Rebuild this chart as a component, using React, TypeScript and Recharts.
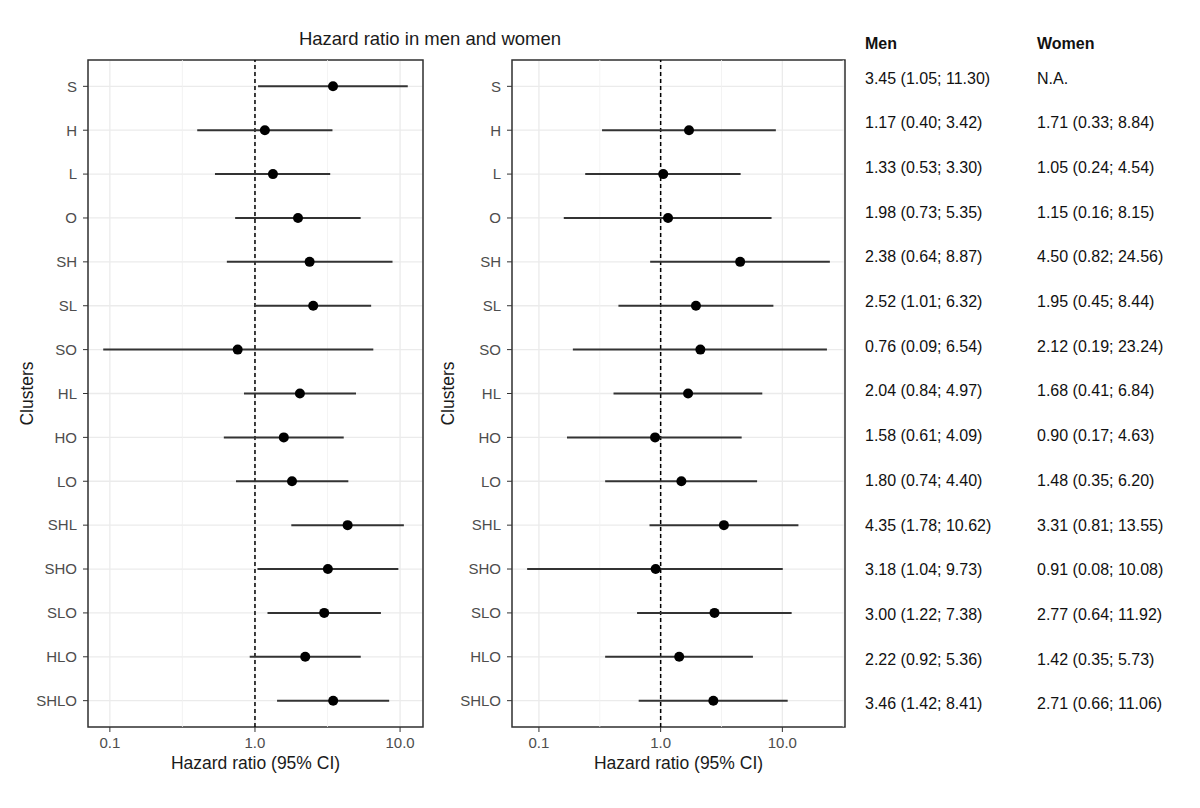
import React from 'react';
import {
  ScatterChart,
  Scatter,
  XAxis,
  YAxis,
  CartesianGrid,
  ReferenceLine,
  ReferenceArea,
  ErrorBar,
} from 'recharts';

const CLUSTERS = ['S', 'H', 'L', 'O', 'SH', 'SL', 'SO', 'HL', 'HO', 'LO', 'SHL', 'SHO', 'SLO', 'HLO', 'SHLO'];

const MEN_HR = [3.45, 1.17, 1.33, 1.98, 2.38, 2.52, 0.76, 2.04, 1.58, 1.8, 4.35, 3.18, 3.0, 2.22, 3.46];
const MEN_LO = [1.05, 0.4, 0.53, 0.73, 0.64, 1.01, 0.09, 0.84, 0.61, 0.74, 1.78, 1.04, 1.22, 0.92, 1.42];
const MEN_HI = [11.3, 3.42, 3.3, 5.35, 8.87, 6.32, 6.54, 4.97, 4.09, 4.4, 10.62, 9.73, 7.38, 5.36, 8.41];

// S is not available for women
const WOMEN_HR = [null, 1.71, 1.05, 1.15, 4.5, 1.95, 2.12, 1.68, 0.9, 1.48, 3.31, 0.91, 2.77, 1.42, 2.71];
const WOMEN_LO = [null, 0.33, 0.24, 0.16, 0.82, 0.45, 0.19, 0.41, 0.17, 0.35, 0.81, 0.08, 0.64, 0.35, 0.66];
const WOMEN_HI = [null, 8.84, 4.54, 8.15, 24.56, 8.44, 23.24, 6.84, 4.63, 6.2, 13.55, 10.08, 11.92, 5.73, 11.06];

const X_TICKS = [0.1, 1, 10];
const MINOR_TICKS = [Math.pow(10, -1.5), Math.pow(10, -0.5), Math.pow(10, 0.5), Math.pow(10, 1.5)];

const FONT = 'Liberation Sans, Arial, sans-serif';
const TICK_FONT = { fontFamily: FONT, fontSize: 15, fill: '#4D4D4D' };

type Row = { x: number; y: number; err: [number, number] };

function buildRows(hr: (number | null)[], lo: (number | null)[], hi: (number | null)[]): Row[] {
  const rows: Row[] = [];
  hr.forEach((v, i) => {
    if (v == null) return;
    rows.push({ x: v, y: i, err: [v - (lo[i] as number), (hi[i] as number) - v] });
  });
  return rows;
}

// ggplot-like log domain: 5% expansion on log scale
function logDomain(lo: (number | null)[], hi: (number | null)[]): [number, number] {
  const a = Math.log10(Math.min(...(lo.filter((v) => v != null) as number[])));
  const b = Math.log10(Math.max(...(hi.filter((v) => v != null) as number[])));
  const pad = (b - a) * 0.05;
  return [Math.pow(10, a - pad), Math.pow(10, b + pad)];
}

const fmt = (hr: number | null, lo: number | null, hi: number | null) =>
  hr == null ? 'N.A.' : `${hr.toFixed(2)} (${(lo as number).toFixed(2)}; ${(hi as number).toFixed(2)})`;

const CHART_W = 430;

function Panel({ rows, domain, left, marginLeft, yWidth, plotWidth }: any) {
  const yTicks = CLUSTERS.map((_, i) => i);
  const marginRight = CHART_W - marginLeft - yWidth - plotWidth;
  return (
    <div style={{ position: 'absolute', left, top: 0 }}>
      <ScatterChart
        width={CHART_W}
        height={808}
        margin={{ top: 60, right: marginRight, bottom: 31, left: marginLeft }}
      >
        <CartesianGrid stroke="#EBEBEB" strokeWidth={1.3} />
        {MINOR_TICKS.map((m) => (
          <ReferenceLine key={m} x={m} stroke="#F0F0F0" strokeWidth={0.8} />
        ))}
        <XAxis
          type="number"
          dataKey="x"
          scale="log"
          domain={domain}
          allowDataOverflow
          ticks={X_TICKS}
          interval={0}
          tickFormatter={(v: number) => v.toFixed(1)}
          axisLine={false}
          tickLine={{ stroke: '#333333' }}
          tickSize={5}
          tickMargin={5}
          tick={TICK_FONT}
          height={50}
          label={{
            value: 'Hazard ratio (95% CI)',
            position: 'insideBottom',
            offset: 8,
            fill: '#1A1A1A',
            fontSize: 17.5,
            fontFamily: FONT,
          }}
        />
        <YAxis
          type="number"
          dataKey="y"
          domain={[-0.6, 14.6]}
          reversed
          ticks={yTicks}
          interval={0}
          tickFormatter={(i: number) => CLUSTERS[i]}
          axisLine={false}
          tickLine={{ stroke: '#333333' }}
          tickSize={5}
          tickMargin={6}
          tick={TICK_FONT}
          width={yWidth}
          label={(p: any) => {
            const vb = p.viewBox;
            const cx = vb.x - 1;
            const cy = vb.y + vb.height / 2;
            return (
              <text
                x={cx}
                y={cy}
                transform={`rotate(-90 ${cx} ${cy})`}
                textAnchor="middle"
                dominantBaseline="central"
                fill="#1A1A1A"
                fontSize={17.5}
                fontFamily={FONT}
              >
                Clusters
              </text>
            );
          }}
        />
        <ReferenceLine x={1} stroke="#000" strokeWidth={1.5} strokeDasharray="4 3" />
        <Scatter
          data={rows}
          isAnimationActive={false}
          fill="#000"
          shape={(p: any) => <circle cx={p.cx} cy={p.cy} r={5} fill="#000" />}
        >
          <ErrorBar dataKey="err" direction="x" width={0} stroke="#333333" strokeWidth={2} />
        </Scatter>
        <ReferenceArea
          x1={domain[0]}
          x2={domain[1]}
          y1={-0.6}
          y2={14.6}
          fill="none"
          fillOpacity={0}
          stroke="#333333"
          strokeWidth={1.5}
          ifOverflow="visible"
        />
      </ScatterChart>
    </div>
  );
}

export default function App() {
  const menRows = buildRows(MEN_HR, MEN_LO, MEN_HI);
  const womenRows = buildRows(WOMEN_HR, WOMEN_LO, WOMEN_HI);
  const menDomain = logDomain(MEN_LO, MEN_HI);
  const womenDomain = logDomain(WOMEN_LO, WOMEN_HI);

  return (
    <div style={{ position: 'absolute', left: 0, top: 0, width: 1200, height: 808, background: '#fff' }}>
      <Panel rows={menRows} domain={menDomain} left={0} marginLeft={28} yWidth={60} plotWidth={335} />
      <Panel rows={womenRows} domain={womenDomain} left={420} marginLeft={29} yWidth={63} plotWidth={333} />
      <svg
        width={1200}
        height={808}
        style={{ position: 'absolute', left: 0, top: 0, pointerEvents: 'none' }}
      >
        <text
          x={430}
          y={38}
          textAnchor="middle"
          dominantBaseline="central"
          fontSize={18.5}
          fontFamily={FONT}
          fill="#1A1A1A"
        >
          Hazard ratio in men and women
        </text>
        <g fontFamily={FONT} fontSize={16} fill="#111">
          <text x={865} y={43} dominantBaseline="central" fontWeight="bold">
            Men
          </text>
          <text x={1037} y={43} dominantBaseline="central" fontWeight="bold">
            Women
          </text>
          {CLUSTERS.map((c, i) => (
            <g key={c}>
              <text x={865} y={78 + i * 44.7} dominantBaseline="central">
                {fmt(MEN_HR[i], MEN_LO[i], MEN_HI[i])}
              </text>
              <text x={1037} y={78 + i * 44.7} dominantBaseline="central">
                {fmt(WOMEN_HR[i], WOMEN_LO[i], WOMEN_HI[i])}
              </text>
            </g>
          ))}
        </g>
      </svg>
    </div>
  );
}
